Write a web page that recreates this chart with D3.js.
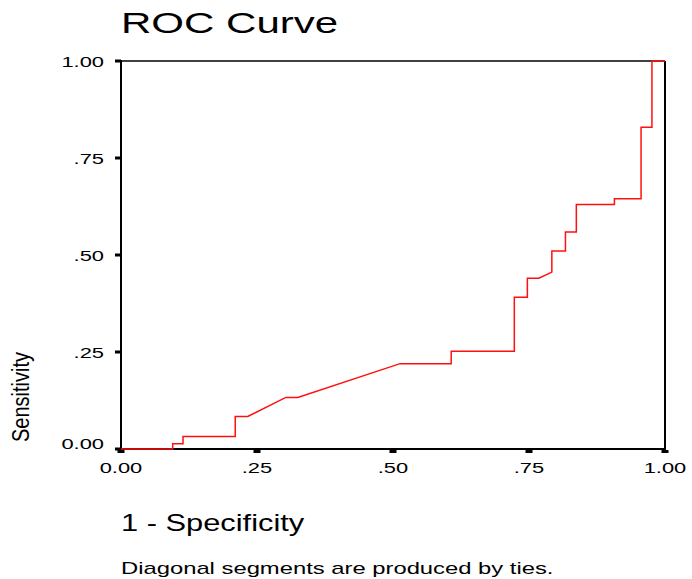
<!DOCTYPE html>
<html>
<head>
<meta charset="utf-8">
<script src="https://cdn.jsdelivr.net/npm/d3@7"></script>
<style>
  body { margin: 0; background: #fff; }
  svg { display: block; }
</style>
</head>
<body>
<svg id="chart"></svg>
<script>
// ROC points (1 - specificity, sensitivity)
const FPR = [0, 0.095, 0.095, 0.114, 0.114, 0.210, 0.210, 0.233, 0.303, 0.325, 0.513,
  0.607, 0.607, 0.723, 0.723, 0.747, 0.747, 0.768, 0.792, 0.792, 0.817, 0.817,
  0.837, 0.837, 0.907, 0.907, 0.956, 0.956, 0.976, 0.976, 1];
const TPR = [0, 0, 0.0137, 0.0137, 0.032, 0.032, 0.084, 0.084, 0.133, 0.133, 0.220,
  0.220, 0.252, 0.252, 0.391, 0.391, 0.440, 0.440, 0.456, 0.510, 0.510, 0.559,
  0.559, 0.630, 0.630, 0.645, 0.645, 0.829, 0.829, 1, 1];
const TICKS = [0, 0.25, 0.5, 0.75, 1];
const TICK_LABELS = ["0.00", ".25", ".50", ".75", "1.00"];

const width = 692, height = 579;
const plotLeft = 121, plotRight = 665, plotTop = 61, plotBottom = 449;
const stretch = 1.46; // the source picture is stretched sideways

const svg = d3.select("#chart")
  .attr("width", width)
  .attr("height", height)
  .attr("font-family", "'Liberation Sans', Arial, sans-serif");

const x = d3.scaleLinear().domain([0, 1]).range([plotLeft, plotRight]);
const y = d3.scaleLinear().domain([0, 1]).range([plotBottom, plotTop]);

// wide text helper
function wideText(g, tx, ty, size, sx, txt, anchor = "start") {
  return g.append("text")
    .attr("transform", `translate(${tx},${ty}) scale(${sx},1)`)
    .attr("font-size", size)
    .attr("text-anchor", anchor)
    .attr("fill", "#000")
    .text(txt);
}

// title
wideText(svg, 121, 33, 29, 1.45, "ROC Curve");

// frame
svg.append("line").attr("x1", plotLeft).attr("x2", plotRight).attr("y1", plotTop).attr("y2", plotTop)
  .attr("stroke", "#000").attr("stroke-width", 1.5);
svg.append("line").attr("x1", plotRight).attr("x2", plotRight).attr("y1", plotTop).attr("y2", plotBottom)
  .attr("stroke", "#000").attr("stroke-width", 2);
svg.append("line").attr("x1", plotLeft).attr("x2", plotLeft).attr("y1", plotTop - 1).attr("y2", plotBottom + 1)
  .attr("stroke", "#000").attr("stroke-width", 2);
svg.append("line").attr("x1", plotLeft - 1).attr("x2", plotRight + 1).attr("y1", plotBottom).attr("y2", plotBottom)
  .attr("stroke", "#000").attr("stroke-width", 2);

// y ticks
const yAxis = svg.append("g");
yAxis.selectAll("rect")
  .data(TICKS)
  .join("rect")
  .attr("x", plotLeft - 6)
  .attr("y", d => y(d) - 1.5)
  .attr("width", 6)
  .attr("height", 3)
  .attr("fill", "#000");
// bottom label sits a little higher so it clears the x labels
TICKS.forEach((d, i) => wideText(yAxis, 104, y(d) + (d === 0 ? 0 : 6), 15, stretch, TICK_LABELS[i], "end"));

// x ticks
const xAxis = svg.append("g");
xAxis.selectAll("rect")
  .data(TICKS)
  .join("rect")
  .attr("x", d => x(d) - 3.5)
  .attr("y", plotBottom + 1)
  .attr("width", 7)
  .attr("height", 3)
  .attr("fill", "#000");
TICKS.forEach((d, i) => wideText(xAxis, x(d), 473, 15, stretch, TICK_LABELS[i], "middle"));

// curve
const line = d3.line()
  .x(i => x(FPR[i]))
  .y(i => y(TPR[i]));
svg.append("path")
  .attr("d", line(d3.range(FPR.length)))
  .attr("fill", "none")
  .attr("stroke", "#ff1010")
  .attr("stroke-width", 1.5);

// axis titles
svg.append("text")
  .attr("transform", "translate(29,442) rotate(-90) scale(1,1.15)")
  .attr("font-size", 20)
  .attr("fill", "#000")
  .text("Sensitivity");

wideText(svg, 121, 531, 23, 1.34, "1 - Specificity");
wideText(svg, 121, 574, 17, 1.4, "Diagonal segments are produced by ties.");
</script>
</body>
</html>
